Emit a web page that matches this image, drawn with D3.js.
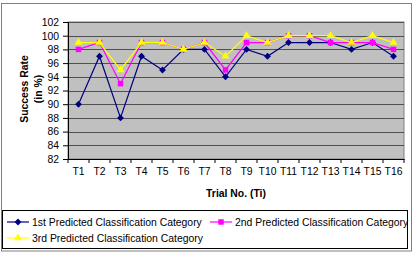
<!DOCTYPE html>
<html>
<head>
<meta charset="utf-8">
<script src="https://cdn.jsdelivr.net/npm/d3@7"></script>
<style>
  body { margin: 0; background: #fff; }
  svg { display: block; font-family: "Liberation Sans", Arial, sans-serif; }
</style>
</head>
<body>
<div id="chart"></div>
<script>
const trials = ['T1','T2','T3','T4','T5','T6','T7','T8','T9','T10','T11','T12','T13','T14','T15','T16'];
const first = [90, 97, 88, 97, 95, 98, 98, 94, 98, 97, 99, 99, 99, 98, 99, 97];
const second = [98, 99, 93, 99, 99, 98, 99, 95, 99, 99, 100, 100, 99, 99, 99, 98];
const third = [99, 99, 95, 99, 99, 98, 99, 97, 100, 99, 100, 100, 100, 99, 100, 99];
const yTicks = [82, 84, 86, 88, 90, 92, 94, 96, 98, 100, 102];
const seriesNames = ['1st Predicted Classification Category', '2nd Predicted Classification Category', '3rd Predicted Classification Category'];

const W = 414, H = 254;
const margin = { top: 22, left: 68 };
const width = 404 - margin.left;
const height = 159 - margin.top;
const fontSize = 10.4;

const svg = d3.select('#chart').append('svg')
    .attr('width', W)
    .attr('height', H);

// outer frame
svg.append('rect')
    .attr('x', 1.5).attr('y', 3.5)
    .attr('width', 410).attr('height', 247.5)
    .attr('fill', '#fff')
    .attr('stroke', '#808080');

const g = svg.append('g')
    .attr('transform', `translate(${margin.left},${margin.top})`);

const x = d3.scaleBand().domain(trials).range([0, width]);
const y = d3.scaleLinear().domain([82, 102]).range([height, 0]);

g.append('rect')
    .attr('width', width).attr('height', height)
    .attr('fill', '#c0c0c0')
    .attr('stroke', '#808080');

// gridlines
g.selectAll('.grid').data(yTicks.slice(1)).join('line')
    .attr('x1', 0).attr('x2', width)
    .attr('y1', d => Math.round(y(d)) + 0.5).attr('y2', d => Math.round(y(d)) + 0.5)
    .attr('stroke', '#505050');

// y axis
const yAxis = g.append('g')
    .call(d3.axisLeft(y).tickValues(yTicks).tickSize(5).tickPadding(4));
yAxis.select('.domain').attr('stroke', '#000');
yAxis.selectAll('text').attr('font-size', fontSize).attr('font-family', '"Liberation Sans", Arial, sans-serif');

// x axis with ticks at category boundaries
const xAxis = g.append('g')
    .attr('transform', `translate(0,${height})`)
    .call(d3.axisBottom(x).tickSize(0).tickPadding(9));
xAxis.select('.domain').attr('stroke', '#000');
xAxis.selectAll('text').attr('font-size', fontSize).attr('font-family', '"Liberation Sans", Arial, sans-serif');
xAxis.selectAll('.bound').data(d3.range(trials.length + 1)).join('line')
    .attr('x1', i => i * x.step()).attr('x2', i => i * x.step())
    .attr('y1', 0).attr('y2', 4)
    .attr('stroke', '#000');

// axis titles
svg.append('text')
    .attr('x', 236).attr('y', 197)
    .attr('text-anchor', 'middle')
    .attr('font-size', fontSize).attr('font-weight', 'bold')
    .text('Trial No. (Ti)');

const yt = svg.append('text')
    .attr('transform', 'translate(28,89) rotate(-90)')
    .attr('text-anchor', 'middle')
    .attr('font-size', fontSize).attr('font-weight', 'bold');
yt.append('tspan').attr('x', 0).attr('y', 0).text('Success Rate');
yt.append('tspan').attr('x', 0).attr('y', 14).text('(in %)');

const series = [
  { name: seriesNames[0], values: first, color: '#000080', symbol: d3.symbolDiamond2, size: 30 },
  { name: seriesNames[1], values: second, color: '#ff00ff', symbol: d3.symbolSquare, size: 30 },
  { name: seriesNames[2], values: third, color: '#ffff00', symbol: d3.symbolTriangle, size: 28 }
];

const line = d3.line()
    .x((d, i) => x(trials[i]) + x.bandwidth() / 2)
    .y(d => y(d));

series.forEach(s => {
  g.append('path')
      .datum(s.values)
      .attr('fill', 'none')
      .attr('stroke', s.color)
      .attr('stroke-width', 1.2)
      .attr('d', line);
  g.selectAll(null).data(s.values).join('path')
      .attr('transform', (d, i) => `translate(${x(trials[i]) + x.bandwidth() / 2},${y(d)})`)
      .attr('d', d3.symbol(s.symbol, s.size))
      .attr('fill', s.color);
});

// legend
const lg = svg.append('g');
lg.append('rect')
    .attr('x', 2.5).attr('y', 210.5)
    .attr('width', 405).attr('height', 38)
    .attr('fill', '#fff')
    .attr('stroke', '#000');

const legendPos = [[7, 222], [210, 222], [7, 238]];
series.forEach((s, i) => {
  const [lx, ly] = legendPos[i];
  const item = lg.append('g').attr('transform', `translate(${lx},${ly})`);
  item.append('line')
      .attr('x1', 0).attr('x2', 22)
      .attr('stroke', s.color).attr('stroke-width', 1.2);
  item.append('path')
      .attr('transform', 'translate(11,0)')
      .attr('d', d3.symbol(s.symbol, s.size))
      .attr('fill', s.color);
  item.append('text')
      .attr('x', 25).attr('dy', '0.35em')
      .attr('font-size', fontSize)
      .text(s.name);
});
</script>
</body>
</html>
